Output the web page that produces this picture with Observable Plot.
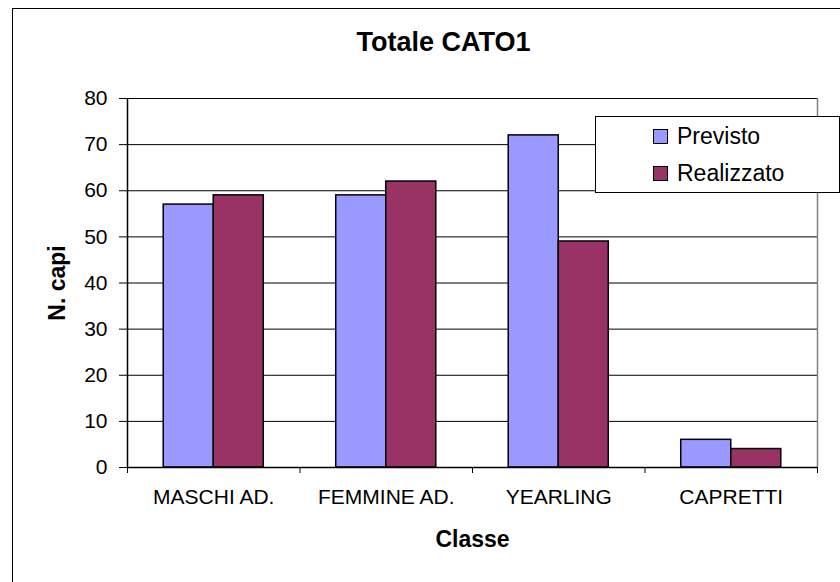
<!DOCTYPE html>
<html>
<head>
<meta charset="utf-8">
<script src="https://cdn.jsdelivr.net/npm/d3@7"></script>
<script src="https://cdn.jsdelivr.net/npm/@observablehq/plot@0.6"></script>
<style>
  html, body { margin: 0; padding: 0; background: #fff; }
  #wrap { position: relative; width: 840px; height: 582px; overflow: hidden; font-family: "Liberation Sans", Arial, sans-serif; }
  #wrap svg { position: absolute; left: 0; top: 0; }
  #border { position: absolute; left: 12px; top: 8px; width: 900px; height: 700px; border: 1.5px solid #000; pointer-events: none; }
  #legend { position: absolute; left: 595px; top: 116px; width: 243px; height: 75px; border: 1px solid #000; background: #fff; font-size: 23px; }
  #legend .row { position: absolute; left: 57px; height: 30px; display: flex; align-items: center; }
  #legend .sw { width: 13px; height: 13px; border: 1px solid #000; margin-right: 9px; }
</style>
</head>
<body>
<div id="wrap"></div>
<script>
// ---- data ----
const title = "Totale CATO1";
const xTitle = "Classe";
const yTitle = "N. capi";
const categories = ["MASCHI AD.", "FEMMINE AD.", "YEARLING", "CAPRETTI"];
const series = ["Previsto", "Realizzato"];
const previsto = [57, 59, 72, 6];
const realizzato = [59, 62, 49, 4];
const yTicks = [0, 10, 20, 30, 40, 50, 60, 70, 80];
const colors = ["#9999FF", "#993366"];

// ---- build table ----
const values = [previsto, realizzato];
const rows = [];
categories.forEach((c, i) => series.forEach((s, j) => rows.push({cls: c, i, series: s, j, value: values[j][i]})));

const groupInset = 0.21, barW = 0.29;
const n = categories.length;
const font = "'Liberation Sans', Arial, sans-serif";

const chart = Plot.plot({
  width: 840,
  height: 582,
  marginLeft: 127,
  marginRight: 23,
  marginTop: 98,
  marginBottom: 115,
  style: {fontFamily: font, fontSize: "21px", color: "#000", background: "transparent"},
  x: {type: "linear", domain: [0, n], label: null},
  y: {type: "linear", domain: [0, 80], label: null},
  color: {domain: series, range: colors},
  marks: [
    Plot.gridY(yTicks, {stroke: "#000", strokeOpacity: 1, strokeWidth: 1}),
    Plot.rectY(rows, {
      x1: d => d.i + groupInset + d.j * barW,
      x2: d => d.i + groupInset + (d.j + 1) * barW,
      y1: () => 0,
      y2: "value",
      fill: "series",
      stroke: "#000",
      strokeWidth: 1.5
    }),
    Plot.ruleX([n], {stroke: "#808080", strokeWidth: 1.5}),
    Plot.ruleX([0], {stroke: "#000", strokeWidth: 1.5}),
    Plot.ruleY([0], {stroke: "#000", strokeWidth: 1.5}),
    Plot.axisY({ticks: yTicks, tickSize: 8, tickPadding: 12, fontSize: 21, label: null, stroke: "#000"}),
    Plot.axisX({ticks: d3.range(0, n + 1), tickSize: 6, tickFormat: () => "", label: null, stroke: "#000"}),
    Plot.axisX({ticks: categories.map((_, i) => i + 0.5), tickSize: 0, tickPadding: 22, fontSize: 21,
      tickFormat: v => categories[Math.floor(v)], label: null}),
    Plot.text([title], {frameAnchor: "top", lineAnchor: "middle", textAnchor: "middle", dx: -29, dy: -56, fontSize: 27, fontWeight: "bold", fill: "#000"}),
    Plot.text([xTitle], {frameAnchor: "bottom", lineAnchor: "middle", textAnchor: "middle", dy: 72, fontSize: 23, fontWeight: "bold", fill: "#000"}),
    Plot.text([yTitle], {frameAnchor: "left", lineAnchor: "middle", textAnchor: "middle", dx: -70, rotate: -90, fontSize: 23, fontWeight: "bold", fill: "#000"})
  ]
});

const wrap = document.getElementById("wrap");
wrap.appendChild(chart);

const border = document.createElement("div");
border.id = "border";
wrap.appendChild(border);

const legend = document.createElement("div");
legend.id = "legend";
series.forEach((s, j) => {
  const row = document.createElement("div");
  row.className = "row";
  row.style.top = (4 + j * 37) + "px";
  const sw = document.createElement("div");
  sw.className = "sw";
  sw.style.background = colors[j];
  const t = document.createElement("span");
  t.textContent = s;
  row.appendChild(sw);
  row.appendChild(t);
  legend.appendChild(row);
});
wrap.appendChild(legend);
</script>
</body>
</html>
